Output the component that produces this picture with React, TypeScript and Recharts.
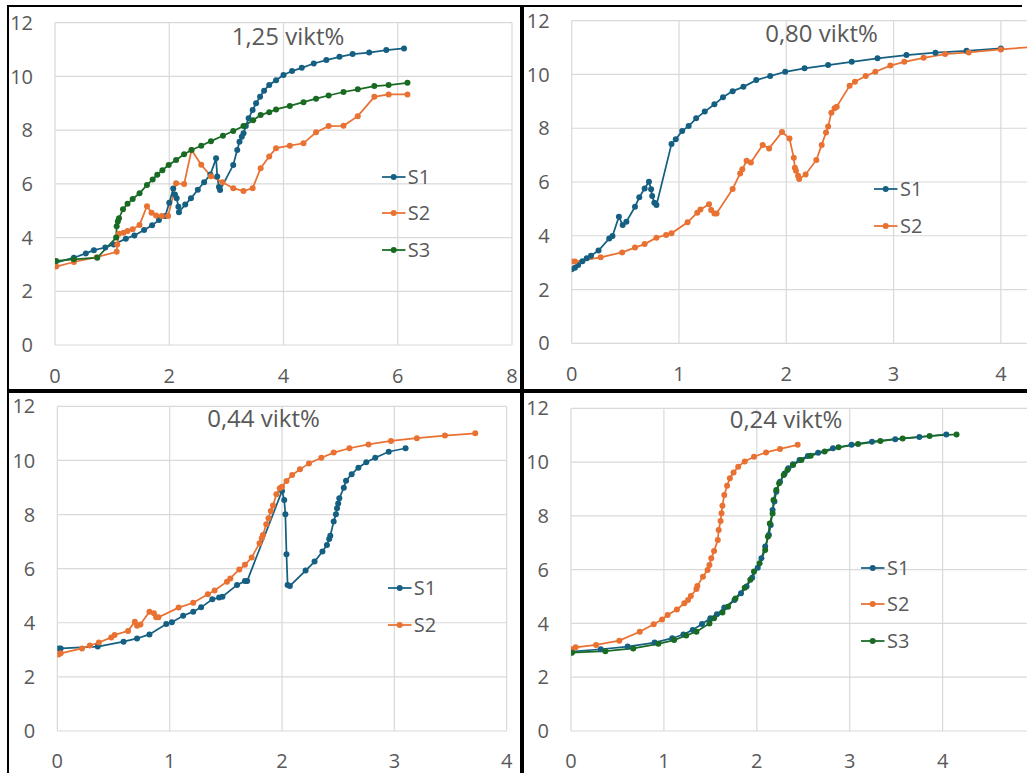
import React from "react";
import { LineChart, Line, XAxis, YAxis, CartesianGrid, Legend } from "recharts";

type Pair = [number, number];

// pH-style titration curves, four concentrations (x = added volume, y = reading)
const w125S1: Pair[] = [
  [0, 3.06], [0.33, 3.25], [0.54, 3.41], [0.68, 3.53], [0.88, 3.63], [1.03, 3.74],
  [1.24, 3.96], [1.39, 4.08], [1.56, 4.28], [1.7, 4.46], [1.82, 4.65], [1.93, 4.8],
  [2.0, 5.3], [2.07, 5.83], [2.1, 5.6], [2.13, 5.46], [2.16, 5.15], [2.17, 4.94],
  [2.28, 5.23], [2.38, 5.46], [2.5, 5.78], [2.61, 6.06], [2.72, 6.35], [2.82, 6.95],
  [2.84, 6.27], [2.87, 5.88], [2.89, 5.77], [3.12, 6.7], [3.19, 7.26], [3.23, 7.57],
  [3.27, 7.75], [3.3, 7.88], [3.34, 8.15], [3.39, 8.44], [3.46, 8.75], [3.52, 9.0],
  [3.59, 9.24], [3.66, 9.47], [3.75, 9.68], [3.87, 9.86], [4.0, 10.05], [4.15, 10.2],
  [4.32, 10.32], [4.53, 10.48], [4.75, 10.61], [4.98, 10.73], [5.21, 10.83],
  [5.5, 10.89], [5.8, 10.98], [6.11, 11.04],
];
const w125S2: Pair[] = [
  [0.02, 2.92], [0.33, 3.09], [0.73, 3.27], [1.08, 3.47], [1.09, 3.74], [1.12, 4.14],
  [1.2, 4.18], [1.27, 4.24], [1.36, 4.31], [1.48, 4.47], [1.61, 5.17], [1.69, 4.92],
  [1.77, 4.82], [1.87, 4.8], [1.98, 4.8], [2.12, 6.02], [2.26, 5.99], [2.39, 7.26],
  [2.56, 6.71], [2.73, 6.28], [2.93, 6.06], [3.12, 5.84], [3.3, 5.73], [3.46, 5.84],
  [3.6, 6.58], [3.75, 7.02], [3.87, 7.33], [4.11, 7.42], [4.35, 7.51], [4.57, 7.92],
  [4.79, 8.15], [5.05, 8.16], [5.3, 8.52], [5.59, 9.24], [5.84, 9.33], [6.17, 9.33],
];
const w125S3: Pair[] = [
  [0.02, 3.13], [0.33, 3.19], [0.74, 3.25], [1.07, 4.0], [1.08, 4.42], [1.1, 4.6],
  [1.12, 4.72], [1.19, 5.05], [1.27, 5.26], [1.36, 5.44], [1.48, 5.65], [1.61, 5.96],
  [1.71, 6.16], [1.79, 6.34], [1.88, 6.51], [1.99, 6.7], [2.12, 6.89], [2.26, 7.1],
  [2.39, 7.26], [2.56, 7.42], [2.73, 7.59], [2.94, 7.79], [3.12, 7.97], [3.3, 8.15],
  [3.47, 8.37], [3.6, 8.56], [3.75, 8.67], [3.87, 8.77], [4.11, 8.9], [4.35, 9.04],
  [4.57, 9.17], [4.79, 9.29], [5.05, 9.42], [5.3, 9.52], [5.59, 9.64], [5.84, 9.68],
  [6.17, 9.76],
];

const w080S1: Pair[] = [
  [0, 2.75], [0.03, 2.81], [0.06, 2.91], [0.1, 3.05], [0.14, 3.16], [0.18, 3.26],
  [0.25, 3.45], [0.35, 3.9], [0.38, 3.99], [0.44, 4.71], [0.475, 4.4], [0.51, 4.52],
  [0.59, 5.08], [0.63, 5.43], [0.68, 5.76], [0.72, 6.01], [0.74, 5.73], [0.75, 5.48],
  [0.77, 5.23], [0.79, 5.14], [0.93, 7.41], [0.97, 7.59], [1.03, 7.9], [1.09, 8.08],
  [1.16, 8.37], [1.24, 8.62], [1.33, 8.89], [1.41, 9.15], [1.5, 9.38], [1.6, 9.54],
  [1.72, 9.79], [1.85, 9.94], [1.99, 10.1], [2.17, 10.23], [2.39, 10.35], [2.61, 10.47],
  [2.85, 10.6], [3.12, 10.72], [3.39, 10.81], [3.68, 10.88], [4.0, 10.97],
];
const w080S2: Pair[] = [
  [0, 3.04], [0.03, 3.04], [0.27, 3.2], [0.47, 3.38], [0.59, 3.56], [0.68, 3.69],
  [0.79, 3.93], [0.88, 4.03], [0.93, 4.09], [1.08, 4.5], [1.17, 4.86], [1.2, 4.98],
  [1.28, 5.17], [1.3, 4.96], [1.33, 4.83], [1.35, 4.83], [1.5, 5.74], [1.57, 6.32],
  [1.59, 6.47], [1.63, 6.79], [1.67, 6.73], [1.78, 7.38], [1.84, 7.25], [1.96, 7.86],
  [2.03, 7.62], [2.07, 6.9], [2.08, 6.53], [2.09, 6.42], [2.11, 6.23], [2.12, 6.11],
  [2.18, 6.28], [2.28, 6.82], [2.33, 7.38], [2.37, 7.84], [2.39, 8.06], [2.42, 8.58],
  [2.45, 8.74], [2.47, 8.8], [2.59, 9.58], [2.64, 9.73], [2.74, 9.94], [2.83, 10.1],
  [2.97, 10.33], [3.1, 10.47], [3.28, 10.62], [3.48, 10.76], [3.7, 10.82], [4.0, 10.93],
  [4.3, 11.03],
];

const w044S1: Pair[] = [
  [0.01, 3.05], [0.03, 3.05], [0.36, 3.12], [0.59, 3.3], [0.71, 3.42], [0.82, 3.57],
  [0.97, 3.95], [1.02, 4.02], [1.12, 4.26], [1.21, 4.41], [1.28, 4.57], [1.38, 4.87],
  [1.44, 4.93], [1.47, 4.96], [1.6, 5.4], [1.67, 5.54], [1.69, 5.54], [2.0, 8.87],
  [2.02, 8.54], [2.03, 8.01], [2.04, 6.53], [2.05, 5.4], [2.07, 5.36], [2.21, 5.93],
  [2.29, 6.26], [2.36, 6.63], [2.4, 6.87], [2.42, 7.1], [2.43, 7.22], [2.46, 7.74],
  [2.48, 8.01], [2.49, 8.23], [2.5, 8.41], [2.51, 8.6], [2.55, 8.99], [2.57, 9.25],
  [2.62, 9.49], [2.68, 9.73], [2.75, 9.93], [2.83, 10.1], [2.95, 10.32], [3.1, 10.45],
];
const w044S2: Pair[] = [
  [0.01, 2.83], [0.03, 2.87], [0.22, 3.05], [0.29, 3.16], [0.37, 3.27], [0.48, 3.46],
  [0.51, 3.55], [0.63, 3.7], [0.69, 4.04], [0.71, 3.89], [0.74, 3.94], [0.82, 4.41],
  [0.86, 4.35], [0.88, 4.2], [0.9, 4.2], [1.08, 4.56], [1.21, 4.74], [1.34, 5.05],
  [1.4, 5.19], [1.51, 5.52], [1.54, 5.64], [1.62, 5.97], [1.67, 6.14], [1.73, 6.41],
  [1.8, 6.94], [1.82, 7.12], [1.83, 7.24], [1.86, 7.64], [1.88, 7.86], [1.9, 8.13],
  [1.92, 8.33], [1.95, 8.75], [1.98, 8.97], [2.0, 9.03], [2.04, 9.24], [2.09, 9.46],
  [2.16, 9.67], [2.24, 9.89], [2.35, 10.1], [2.46, 10.29], [2.6, 10.45], [2.77, 10.59],
  [2.97, 10.72], [3.2, 10.82], [3.45, 10.92], [3.72, 11.0],
];

const w024S1: Pair[] = [
  [0.01, 2.95], [0.32, 3.04], [0.61, 3.14], [0.9, 3.29], [1.09, 3.45], [1.21, 3.59],
  [1.31, 3.76], [1.41, 3.98], [1.5, 4.19], [1.57, 4.34], [1.65, 4.59], [1.76, 4.87],
  [1.83, 5.12], [1.89, 5.37], [1.95, 5.7], [2.01, 6.07], [2.05, 6.42], [2.09, 6.86],
  [2.13, 7.29], [2.15, 7.66], [2.17, 8.22], [2.19, 8.53], [2.21, 8.9], [2.25, 9.27],
  [2.3, 9.58], [2.34, 9.77], [2.39, 9.92], [2.46, 10.08], [2.55, 10.23], [2.66, 10.35],
  [2.82, 10.51], [3.02, 10.64], [3.24, 10.76], [3.49, 10.85], [3.75, 10.93], [4.04, 11.03],
];
const w024S2: Pair[] = [
  [0.01, 3.04], [0.05, 3.11], [0.27, 3.2], [0.52, 3.36], [0.74, 3.69], [0.89, 3.97],
  [0.98, 4.15], [1.04, 4.31], [1.14, 4.52], [1.22, 4.75], [1.26, 4.87], [1.29, 5.02],
  [1.35, 5.28], [1.36, 5.39], [1.42, 5.74], [1.47, 5.99], [1.49, 6.17], [1.51, 6.42],
  [1.54, 6.69], [1.58, 7.1], [1.59, 7.47], [1.61, 7.81], [1.62, 8.1], [1.63, 8.38],
  [1.65, 8.78], [1.68, 9.12], [1.71, 9.4], [1.75, 9.61], [1.8, 9.83], [1.87, 10.02],
  [1.97, 10.2], [2.1, 10.36], [2.25, 10.49], [2.44, 10.64],
];
const w024S3: Pair[] = [
  [0.01, 2.91], [0.37, 2.97], [0.67, 3.07], [0.94, 3.24], [1.11, 3.38], [1.24, 3.55],
  [1.35, 3.69], [1.49, 4.0], [1.54, 4.19], [1.63, 4.41], [1.69, 4.62], [1.77, 4.93],
  [1.87, 5.33], [1.93, 5.62], [1.97, 5.93], [2.03, 6.24], [2.09, 6.73], [2.12, 7.23],
  [2.14, 7.72], [2.17, 8.09], [2.18, 8.59], [2.21, 8.96], [2.24, 9.21], [2.29, 9.52],
  [2.33, 9.71], [2.39, 9.89], [2.48, 10.08], [2.58, 10.24], [2.73, 10.39], [2.88, 10.55],
  [3.09, 10.67], [3.33, 10.78], [3.57, 10.88], [3.86, 10.97], [4.15, 11.03],
];

const Y_TICKS = [0, 2, 4, 6, 8, 10, 12];
const X_TICKS_8 = [0, 2, 4, 6, 8];
const X_TICKS_4 = [0, 1, 2, 3, 4];

const COLORS: Record<string, string> = {
  S1: "#156082",
  S2: "#E97132",
  S3: "#196B24",
};

const FONT = "'Open Sans', sans-serif";
const TEXT = "#595959";
const GRID = "#d9d9d9";

type Series = { name: string; points: Pair[] };

interface PanelProps {
  title: string;
  titleX: number;
  titleY: number;
  box: { left: number; top: number; width: number; height: number };
  plot: { left: number; top: number; right: number; bottom: number };
  xMax: number;
  xTicks: number[];
  xTickGap: number;
  series: Series[];
  legendX: number;
  legendY: number;
}

function Panel({ title, titleX, titleY, box, plot, xMax, xTicks, xTickGap, series, legendX, legendY }: PanelProps) {
  const chartWidth = Math.max(box.width, plot.right - box.left + 10);
  const yAxisWidth = plot.left - box.left;
  const xAxisHeight = box.height - (plot.bottom - box.top);
  const margin = {
    top: plot.top - box.top,
    right: chartWidth - (plot.right - box.left),
    bottom: 0,
    left: 0,
  };
  const step = 36.5;

  const legendContent = () => (
    <div style={{ fontFamily: FONT, fontSize: 20, color: TEXT }}>
      {series.map((s) => (
        <div key={s.name} style={{ display: "flex", alignItems: "center", height: step }}>
          <svg width={25} height={12} style={{ display: "block" }}>
            <line x1={0} y1={6} x2={23.5} y2={6} stroke={COLORS[s.name]} strokeWidth={1.75} />
            <circle cx={11.7} cy={6} r={3} fill={COLORS[s.name]} />
          </svg>
          <span style={{ marginLeft: 1, lineHeight: 1 }}>{s.name}</span>
        </div>
      ))}
    </div>
  );

  return (
    <div
      style={{
        position: "absolute",
        left: box.left,
        top: box.top,
        width: box.width,
        height: box.height,
        overflow: "hidden",
      }}
    >
      <LineChart width={chartWidth} height={box.height} margin={margin}>
        <CartesianGrid stroke={GRID} strokeWidth={1.2} />
        <XAxis
          type="number"
          dataKey="x"
          domain={[0, xMax]}
          ticks={xTicks}
          allowDataOverflow
          height={xAxisHeight}
          axisLine={false}
          tickLine={false}
          tickSize={0}
          tickMargin={xTickGap}
          tick={{ fill: TEXT, fontSize: 20, fontFamily: FONT }}
        />
        <YAxis
          type="number"
          dataKey="y"
          domain={[0, 12]}
          ticks={Y_TICKS}
          allowDataOverflow
          width={yAxisWidth}
          axisLine={false}
          tickLine={false}
          tickSize={0}
          tickMargin={22}
          tick={{ fill: TEXT, fontSize: 20, fontFamily: FONT }}
        />
        <Legend
          layout="vertical"
          align="center"
          verticalAlign="middle"
          content={legendContent}
          wrapperStyle={{
            left: legendX - box.left,
            top: legendY - step / 2 - box.top,
            width: 60,
          }}
        />
        {series.map((s) => (
          <Line
            key={s.name}
            name={s.name}
            data={s.points.map(([x, y]) => ({ x, y }))}
            dataKey="y"
            type="linear"
            stroke={COLORS[s.name]}
            strokeWidth={1.75}
            dot={{ r: 3, fill: COLORS[s.name], stroke: COLORS[s.name], strokeWidth: 0 }}
            activeDot={false}
            isAnimationActive={false}
          />
        ))}
      </LineChart>
      <svg
        width={box.width}
        height={box.height}
        style={{ position: "absolute", left: 0, top: 0, pointerEvents: "none" }}
      >
        <text
          x={titleX - box.left}
          y={titleY - box.top}
          textAnchor="middle"
          fontFamily={FONT}
          fontSize={24}
          fill={TEXT}
        >
          {title}
        </text>
      </svg>
    </div>
  );
}

export default function App() {
  return (
    <div
      style={{
        position: "absolute",
        left: 0,
        top: 0,
        width: 1027,
        height: 773,
        overflow: "hidden",
        background: "#ffffff",
      }}
    >
      <Panel
        title="1,25 vikt%"
        titleX={288}
        titleY={45}
        box={{ left: 9, top: 7, width: 511, height: 382 }}
        plot={{ left: 55, top: 22.7, right: 512, bottom: 345 }}
        xMax={8}
        xTicks={X_TICKS_8}
        xTickGap={23.5}
        series={[
          { name: "S1", points: w125S1 },
          { name: "S2", points: w125S2 },
          { name: "S3", points: w125S3 },
        ]}
        legendX={381.7}
        legendY={176.7}
      />
      <Panel
        title="0,80 vikt%"
        titleX={821.5}
        titleY={42}
        box={{ left: 524, top: 7, width: 503, height: 382 }}
        plot={{ left: 571.7, top: 20.7, right: 1108.2, bottom: 343.3 }}
        xMax={5}
        xTicks={X_TICKS_4}
        xTickGap={23.5}
        series={[
          { name: "S1", points: w080S1 },
          { name: "S2", points: w080S2 },
        ]}
        legendX={874}
        legendY={189.3}
      />
      <Panel
        title="0,44 vikt%"
        titleX={263.5}
        titleY={427}
        box={{ left: 9, top: 393, width: 511, height: 380 }}
        plot={{ left: 57.3, top: 406.3, right: 506.7, bottom: 731 }}
        xMax={4}
        xTicks={X_TICKS_4}
        xTickGap={22.5}
        series={[
          { name: "S1", points: w044S1 },
          { name: "S2", points: w044S2 },
        ]}
        legendX={387.7}
        legendY={588.3}
      />
      <Panel
        title="0,24 vikt%"
        titleX={786}
        titleY={428}
        box={{ left: 524, top: 393, width: 503, height: 380 }}
        plot={{ left: 571, top: 408.3, right: 1035.5, bottom: 731 }}
        xMax={5}
        xTicks={X_TICKS_4}
        xTickGap={22.5}
        series={[
          { name: "S1", points: w024S1 },
          { name: "S2", points: w024S2 },
          { name: "S3", points: w024S3 },
        ]}
        legendX={861}
        legendY={567.7}
      />
      {/* panel frame */}
      <svg
        width={1027}
        height={773}
        style={{ position: "absolute", left: 0, top: 0, pointerEvents: "none" }}
      >
        <rect x={8} y={5} width={1014} height={2} fill="#000" />
        <rect x={7} y={5} width={2} height={768} fill="#000" />
        <rect x={520} y={5} width={4} height={768} fill="#000" />
        <rect x={7} y={389} width={1020} height={4} fill="#000" />
      </svg>
    </div>
  );
}
